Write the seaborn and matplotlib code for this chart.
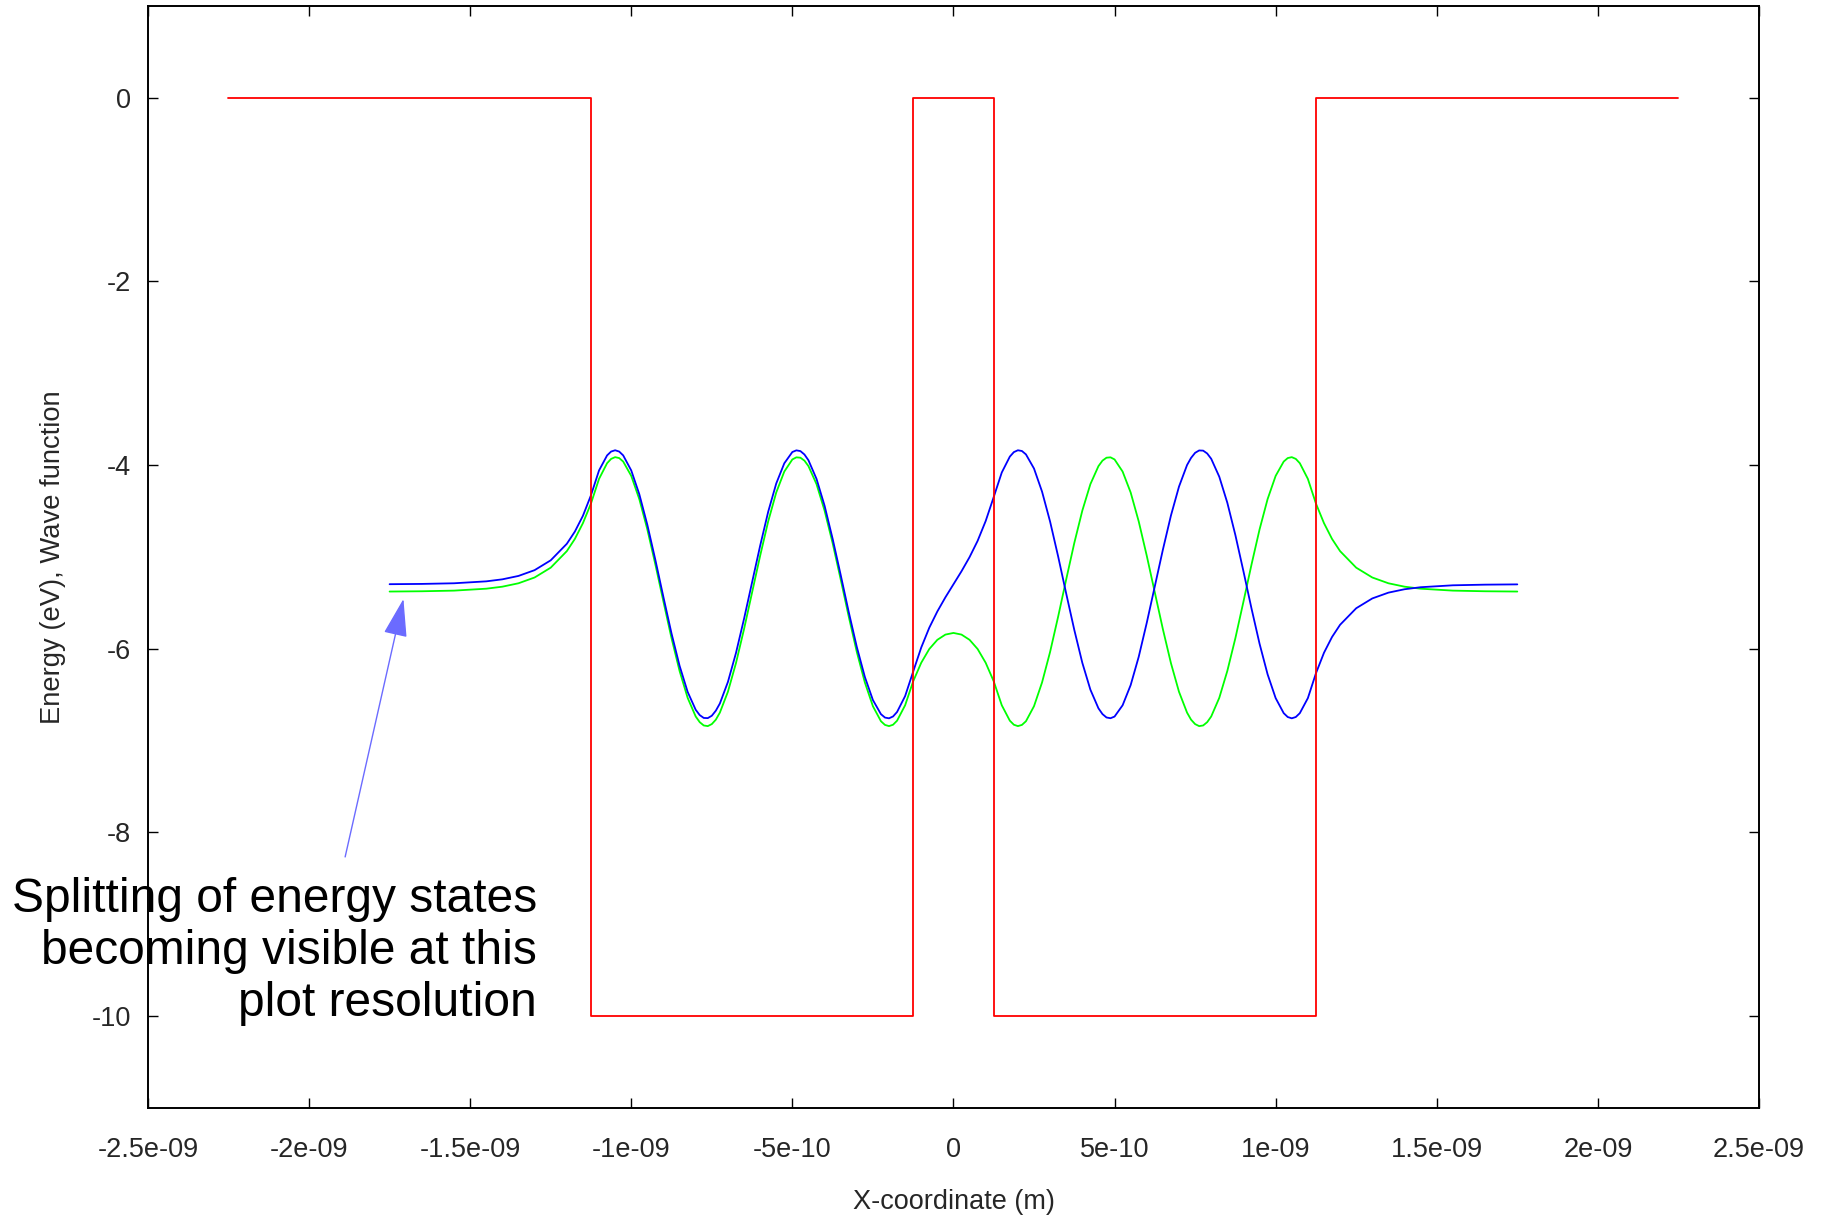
import numpy as np
import pandas as pd
import matplotlib
matplotlib.use("Agg")
import matplotlib.pyplot as plt
from matplotlib.ticker import FuncFormatter
import seaborn as sns

# Square double-well potential (edges in nm, levels in eV)
well_edges_nm = [-2.25, -1.125, -0.125, 0.125, 1.125, 2.25]
well_levels_eV = [0, -10, 0, -10, 0]

# Sample positions of the two lowest coupled states (nm)
x_nm = [-1.75, -1.65, -1.55, -1.45, -1.40, -1.35, -1.30, -1.25, -1.20, -1.175, -1.15,
        -1.125, -1.1, -1.075, -1.05, -1.025, -1.0, -0.975, -0.95, -0.925, -0.9,
        -0.875, -0.85, -0.825, -0.8, -0.775, -0.75, -0.725, -0.7, -0.675, -0.65,
        -0.625, -0.6, -0.575, -0.55, -0.525, -0.5, -0.475, -0.45, -0.425, -0.4,
        -0.375, -0.35, -0.325, -0.3, -0.275, -0.25, -0.225, -0.2, -0.175, -0.15,
        -0.125, -0.1, -0.075, -0.05, -0.025, 0.0, 0.025, 0.05, 0.075, 0.1,
        0.125, 0.15, 0.175, 0.2, 0.225, 0.25, 0.275, 0.3, 0.325, 0.35,
        0.375, 0.4, 0.425, 0.45, 0.475, 0.5, 0.525, 0.55, 0.575, 0.6,
        0.625, 0.65, 0.675, 0.7, 0.725, 0.75, 0.775, 0.8, 0.825, 0.85,
        0.875, 0.9, 0.925, 0.95, 0.975, 1.0, 1.025, 1.05, 1.075, 1.1,
        1.125, 1.15, 1.175, 1.2, 1.25, 1.3, 1.35, 1.4, 1.45, 1.55, 1.65, 1.75]

# Symmetric state, drawn at its energy level
psi_even = [-5.379, -5.376, -5.369, -5.348, -5.326, -5.289, -5.226, -5.119, -4.939, -4.806, -4.634,
            -4.420, -4.152, -3.981, -3.915, -3.963, -4.119, -4.372, -4.703, -5.086, -5.490,
            -5.887, -6.244, -6.537, -6.740, -6.838, -6.823, -6.698, -6.471, -6.159, -5.789,
            -5.392, -4.990, -4.615, -4.300, -4.072, -3.940, -3.921, -4.013, -4.209, -4.497,
            -4.851, -5.246, -5.651, -6.036, -6.369, -6.628, -6.792, -6.845, -6.786, -6.618,
            -6.357, -6.155, -6.005, -5.905, -5.848, -5.830, -5.848, -5.905, -6.005, -6.155,
            -6.357, -6.618, -6.786, -6.845, -6.792, -6.628, -6.369, -6.036, -5.651, -5.246,
            -4.851, -4.497, -4.209, -4.013, -3.921, -3.940, -4.072, -4.300, -4.615, -4.990,
            -5.392, -5.789, -6.159, -6.471, -6.698, -6.823, -6.838, -6.740, -6.537, -6.244,
            -5.887, -5.490, -5.086, -4.703, -4.372, -4.119, -3.963, -3.915, -3.981, -4.152,
            -4.420, -4.634, -4.806, -4.939, -5.119, -5.226, -5.289, -5.326, -5.348, -5.369,
            -5.376, -5.379]

# Antisymmetric state, drawn at its energy level
psi_odd = [-5.299, -5.296, -5.289, -5.268, -5.246, -5.209, -5.146, -5.039, -4.859, -4.726, -4.554,
           -4.330, -4.060, -3.896, -3.840, -3.896, -4.060, -4.319, -4.653, -5.037, -5.442,
           -5.836, -6.188, -6.472, -6.667, -6.756, -6.732, -6.599, -6.364, -6.049, -5.677,
           -5.280, -4.881, -4.510, -4.202, -3.982, -3.859, -3.849, -3.949, -4.152, -4.444,
           -4.804, -5.198, -5.602, -5.982, -6.309, -6.561, -6.715, -6.760, -6.691, -6.518,
           -6.251, -5.989, -5.773, -5.596, -5.442, -5.300, -5.158, -5.004, -4.827, -4.611,
           -4.349, -4.082, -3.909, -3.840, -3.885, -4.039, -4.291, -4.618, -4.998, -5.402,
           -5.796, -6.156, -6.448, -6.651, -6.751, -6.741, -6.618, -6.398, -6.090, -5.719,
           -5.320, -4.923, -4.551, -4.236, -4.001, -3.868, -3.844, -3.933, -4.128, -4.412,
           -4.764, -5.158, -5.563, -5.947, -6.281, -6.540, -6.704, -6.760, -6.704, -6.540,
           -6.270, -6.046, -5.874, -5.741, -5.561, -5.454, -5.391, -5.354, -5.332, -5.311,
           -5.304, -5.301]

# Extra samples around the crests and troughs (nm, eV)
x_peak_nm = [-1.0625, -1.0375, -0.7875, -0.7625, -0.7375, -0.4875, -0.4625, -0.2125, -0.1875,
             0.1875, 0.2125, 0.4625, 0.4875, 0.7375, 0.7625, 0.7875, 1.0375, 1.0625]
psi_even_peak = [-3.934, -3.925, -6.802, -6.845, -6.775, -3.917, -3.953, -6.832, -6.830,
                 -6.830, -6.832, -3.953, -3.917, -6.775, -6.845, -6.802, -3.925, -3.934]
psi_odd_peak = [-3.854, -3.854, -6.725, -6.758, -6.677, -3.841, -3.886, -6.752, -6.740,
                -3.860, -3.848, -6.714, -6.759, -3.923, -3.842, -3.875, -6.746, -6.746]

x_tick_values = [-2.5e-9, -2e-9, -1.5e-9, -1e-9, -5e-10, 0, 5e-10, 1e-9, 1.5e-9, 2e-9, 2.5e-9]
y_tick_values = [-10, -8, -6, -4, -2, 0]

note_text = "Splitting of energy states\nbecoming visible at this\nplot resolution"

sns.set_style("ticks")
plt.rcParams["font.family"] = ["Liberation Sans", "DejaVu Sans"]

NM = 1e-9
waves = pd.DataFrame({
    "x": np.array(x_nm + x_peak_nm) * NM,
    "even": psi_even + psi_even_peak,
    "odd": psi_odd + psi_odd_peak,
}).sort_values("x")
potential = pd.DataFrame({
    "x": np.array(well_edges_nm) * NM,
    "V": well_levels_eV + [well_levels_eV[-1]],
})

fig = plt.figure(figsize=(18.22, 12.18), dpi=100)
ax = fig.add_axes([0.0812, 0.0907, 0.8842, 0.9044])

sns.lineplot(data=waves, x="x", y="even", ax=ax, color="#00ff00", lw=1.3,
             sort=False, estimator=None, zorder=2)
sns.lineplot(data=waves, x="x", y="odd", ax=ax, color="#0000ff", lw=1.3,
             sort=False, estimator=None, zorder=3)
sns.lineplot(data=potential, x="x", y="V", ax=ax, color="#ff0000", lw=1.3,
             sort=False, estimator=None, drawstyle="steps-post", zorder=4)

ax.set_xlim(-2.5e-9, 2.5e-9)
ax.set_ylim(-11, 1)
ax.set_xticks(x_tick_values)
ax.set_yticks(y_tick_values)
ax.xaxis.set_major_formatter(FuncFormatter(lambda v, pos: "{:g}".format(v)))
ax.yaxis.set_major_formatter(FuncFormatter(lambda v, pos: "{:g}".format(round(v, 6))))

ax.tick_params(axis="both", which="major", direction="in", length=7.5, width=1.0,
               top=True, right=True, labelsize=19.5, color="black")
ax.tick_params(axis="x", pad=21)
ax.tick_params(axis="y", pad=12)
for sp in ax.spines.values():
    sp.set_linewidth(1.4)
    sp.set_color("black")

ax.set_xlabel("X-coordinate (m)", fontsize=19.5)
ax.set_ylabel("Energy (eV), Wave function", fontsize=19.7)
ax.xaxis.set_label_coords(0.5, -0.074)
ax.yaxis.set_label_coords(-0.051, 0.5)

ax.annotate("", xy=(-1.707e-9, -5.46), xytext=(-1.888e-9, -8.27),
            arrowprops=dict(arrowstyle="-|>,head_length=2.4,head_width=0.75",
                            mutation_scale=10, color="#6b6bff", lw=1.0,
                            shrinkA=0, shrinkB=0))
ax.text(-1.292e-9, -9.30, note_text, ha="right", va="center", fontsize=34.5,
        linespacing=1.2, color="black")

fig.savefig("out.png", dpi=100, facecolor="white")
